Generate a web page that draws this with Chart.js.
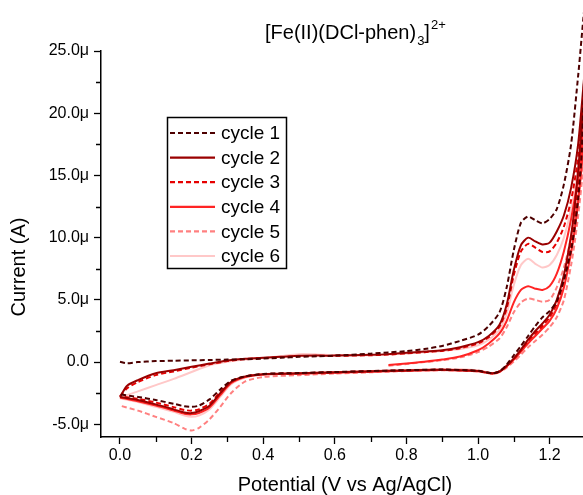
<!DOCTYPE html>
<html>
<head>
<meta charset="utf-8">
<script src="https://cdn.jsdelivr.net/npm/chart.js@4.4.0/dist/chart.umd.min.js"></script>
<style>
  html, body { margin: 0; padding: 0; background: #fff; overflow: hidden; }
  #wrap { width: 583px; height: 495px; overflow: hidden; }
</style>
</head>
<body>
<div id="wrap"><canvas id="cv" width="600" height="495"></canvas></div>
<script>
// potential grid (V vs Ag/AgCl), forward sweep and reverse sweep
const fwdPotential = [0.00, 0.02, 0.05, 0.10, 0.15, 0.20, 0.25, 0.30, 0.35, 0.40, 0.45, 0.50, 0.55, 0.60, 0.70,
                      0.75, 0.80, 0.85, 0.90, 0.95, 1.00, 1.03, 1.06, 1.08, 1.10, 1.12, 1.14, 1.16, 1.18, 1.20,
                      1.22, 1.24, 1.26, 1.28, 1.30];
const revPotential = [1.29, 1.28, 1.27, 1.26, 1.24, 1.22, 1.20, 1.18, 1.16, 1.14, 1.12, 1.10, 1.08, 1.06, 1.04,
                      1.00, 0.90, 0.80, 0.70, 0.60, 0.50, 0.40, 0.35, 0.31, 0.28, 0.25, 0.22, 0.20, 0.18, 0.15,
                      0.10, 0.05, 0.00];

// current in µA
const cycle1Fwd = [0.02, -0.10, 0.00, 0.08, 0.11, 0.14, 0.17, 0.20, 0.23, 0.28, 0.35, 0.42, 0.46, 0.52, 0.68,
                   0.78, 0.88, 1.05, 1.30, 1.70, 2.20, 2.90, 4.00, 6.00, 9.00, 11.20, 11.70, 11.40, 11.15, 11.50,
                   12.30, 14.30, 17.50, 23.10, 29.00];
const cycle2Fwd = [-2.80, -1.90, -1.45, -0.90, -0.65, -0.38, -0.12, 0.12, 0.27, 0.35, 0.42, 0.50, 0.52, 0.52, 0.58,
                   0.64, 0.75, 0.85, 0.95, 1.20, 1.60, 2.10, 3.00, 4.60, 7.40, 9.40, 10.00, 9.70, 9.45, 9.60,
                   10.50, 11.80, 14.00, 17.60, 24.00];
const cycle3Fwd = [-2.75, -2.10, -1.60, -1.05, -0.75, -0.45, -0.18, 0.08, 0.25, 0.33, 0.40, 0.48, 0.50, 0.50, 0.55,
                   0.60, 0.70, 0.80, 0.90, 1.12, 1.50, 2.00, 2.85, 4.30, 7.00, 8.90, 9.50, 9.20, 8.85, 8.90,
                   9.60, 10.90, 13.00, 16.50, 22.00];
const cycle4Fwd = [null, null, null, null, null, null, null, null, null, null, null, null, null, null, null,
                   -0.24, -0.12, 0.02, 0.20, 0.45, 0.95, 1.50, 2.30, 3.30, 4.80, 5.80, 6.10, 5.90, 5.80, 6.10,
                   7.10, 8.90, 11.50, 15.00, 20.00];
const cycle5Fwd = [null, null, null, null, null, null, null, null, null, null, null, null, null, null, null,
                   -0.30, -0.15, 0.00, 0.15, 0.38, 0.80, 1.25, 1.90, 2.80, 4.00, 4.80, 5.10, 5.00, 4.85, 5.00,
                   6.00, 7.60, 10.00, 13.30, 18.00];
const cycle6Fwd = [-2.90, -2.65, -2.35, -1.85, -1.35, -0.80, -0.25, 0.02, 0.20, 0.32, 0.48, 0.64, 0.62, 0.55, 0.55,
                   0.60, 0.70, 0.80, 0.90, 1.05, 1.35, 1.80, 2.60, 3.90, 6.20, 7.80, 8.30, 7.90, 7.60, 7.80,
                   8.60, 10.00, 12.30, 15.80, 21.00];

const cycle1Rev = [17.0, 13.2, 10.8, 9.0, 6.6, 4.9, 4.1, 3.6, 2.9, 2.1, 1.3, 0.55, -0.20, -0.75, -0.90,
                   -0.70, -0.60, -0.65, -0.72, -0.80, -0.88, -0.95, -1.15, -1.50, -2.20, -3.00, -3.50, -3.60, -3.55, -3.35,
                   -3.05, -2.80, -2.60];
const cycle2Rev = [19.0, 15.5, 12.5, 10.2, 7.0, 5.0, 3.8, 3.1, 2.5, 1.8, 1.0, 0.30, -0.30, -0.75, -0.90,
                   -0.72, -0.62, -0.67, -0.74, -0.82, -0.90, -0.97, -1.15, -1.60, -2.50, -3.50, -3.95, -4.10, -4.05, -3.80,
                   -3.40, -3.05, -2.80];
const cycle3Rev = [17.5, 14.2, 11.5, 9.5, 6.6, 4.7, 3.6, 2.9, 2.3, 1.7, 0.95, 0.25, -0.30, -0.75, -0.90,
                   -0.72, -0.62, -0.67, -0.74, -0.82, -0.90, -0.97, -1.15, -1.55, -2.40, -3.35, -3.80, -3.90, -3.85, -3.62,
                   -3.25, -2.95, -2.75];
const cycle4Rev = [16.0, 13.0, 10.6, 8.8, 6.0, 4.3, 3.3, 2.7, 2.1, 1.5, 0.85, 0.20, -0.35, -0.78, -0.92,
                   -0.74, -0.64, -0.70, -0.77, -0.85, -0.93, -1.00, -1.20, -1.70, -2.65, -3.65, -4.10, -4.20, -4.15, -3.90,
                   -3.50, -3.15, -2.85];
const cycle5Rev = [14.5, 11.8, 9.6, 7.8, 5.0, 3.6, 2.8, 2.2, 1.7, 1.2, 0.60, 0.05, -0.45, -0.80, -0.95,
                   -0.76, -0.66, -0.72, -0.82, -0.92, -1.05, -1.20, -1.55, -2.50, -3.60, -4.60, -5.30, -5.50, -5.35, -4.90,
                   -4.40, -3.90, -3.50];
const cycle6Rev = [16.8, 13.6, 11.0, 9.0, 6.2, 4.5, 3.4, 2.8, 2.2, 1.6, 0.90, 0.25, -0.32, -0.76, -0.88,
                   -0.66, -0.56, -0.64, -0.72, -0.82, -0.90, -1.00, -1.25, -1.80, -2.80, -3.80, -4.30, -4.40, -4.30, -4.00,
                   -3.60, -3.20, -2.90];

const cycleLabels = ['cycle 1', 'cycle 2', 'cycle 3', 'cycle 4', 'cycle 5', 'cycle 6'];
const xTickValues = [0, 0.2, 0.4, 0.6, 0.8, 1.0, 1.2];
const xMinorTicks = [0.1, 0.3, 0.5, 0.7, 0.9, 1.1, 1.3];
const yTickValues = [-5, 0, 5, 10, 15, 20, 25];
const yMinorTicks = [-2.5, 2.5, 7.5, 12.5, 17.5, 22.5];

const cycleColors = ['#4d0000', '#9a0000', '#e60000', '#ff2424', '#ff8080', '#ffc8c8'];
const cycleDashes = [[5, 3], [], [5, 3], [], [5, 3], []];
const FONT = "'Liberation Sans', Arial, sans-serif";

const cycleFwd = [cycle1Fwd, cycle2Fwd, cycle3Fwd, cycle4Fwd, cycle5Fwd, cycle6Fwd];
const cycleRev = [cycle1Rev, cycle2Rev, cycle3Rev, cycle4Rev, cycle5Rev, cycle6Rev];

function sweep(fwd, rev) {
    const pts = [];
    fwdPotential.forEach((v, i) => { if (fwd[i] !== null) pts.push({ x: v, y: fwd[i] }); });
    revPotential.forEach((v, i) => pts.push({ x: v, y: rev[i] }));
    return pts;
}

const overlay = {
    id: 'overlay',
    afterDraw(chart) {
        const ctx = chart.ctx;
        const xs = chart.scales.x, ys = chart.scales.y;
        ctx.save();

        // minor ticks
        ctx.strokeStyle = '#000';
        ctx.lineWidth = 1.3;
        ctx.beginPath();
        xMinorTicks.forEach(v => {
            const px = Math.round(xs.getPixelForValue(v)) + 0.5;
            ctx.moveTo(px, xs.top); ctx.lineTo(px, xs.top + 5);
        });
        yMinorTicks.forEach(v => {
            const py = Math.round(ys.getPixelForValue(v)) + 0.5;
            ctx.moveTo(ys.right, py); ctx.lineTo(ys.right - 5, py);
        });
        ctx.stroke();

        // y axis title (sits lower than the chart-area centre)
        ctx.save();
        ctx.translate(19, 267);
        ctx.rotate(-Math.PI / 2);
        ctx.font = `20px ${FONT}`;
        ctx.fillStyle = '#000';
        ctx.textAlign = 'center';
        ctx.textBaseline = 'middle';
        ctx.fillText('Current (A)', 0, 0);
        ctx.restore();

        // legend box
        ctx.lineWidth = 1.5;
        ctx.strokeStyle = '#000';
        ctx.strokeRect(167.5, 117.5, 119, 151);
        ctx.font = `19px ${FONT}`;
        ctx.textBaseline = 'middle';
        ctx.textAlign = 'left';
        ctx.fillStyle = '#000';
        cycleLabels.forEach((label, i) => {
            const y = 133 + i * 24.6;
            ctx.save();
            ctx.strokeStyle = cycleColors[i];
            ctx.lineWidth = 2.2;
            ctx.setLineDash(cycleDashes[i]);
            ctx.beginPath();
            ctx.moveTo(170, y); ctx.lineTo(215, y);
            ctx.stroke();
            ctx.restore();
            ctx.fillText(label, 221, y + 1);
        });

        // title with subscript / superscript
        ctx.textBaseline = 'alphabetic';
        let x = 265;
        const base = 39;
        ctx.font = `20px ${FONT}`;
        ctx.fillText('[Fe(II)(DCl-phen)', x, base);
        x += ctx.measureText('[Fe(II)(DCl-phen)').width;
        ctx.font = `13px ${FONT}`;
        ctx.fillText('3', x + 1, base + 6);
        x += ctx.measureText('3').width + 1;
        ctx.font = `20px ${FONT}`;
        ctx.fillText(']', x, base);
        x += ctx.measureText(']').width;
        ctx.font = `13px ${FONT}`;
        ctx.fillText('2+', x + 1, base - 10);

        ctx.restore();
    }
};

new Chart(document.getElementById('cv'), {
    type: 'scatter',
    data: {
        datasets: cycleLabels.map((label, i) => ({
            label: label,
            data: sweep(cycleFwd[i], cycleRev[i]),
            showLine: true,
            borderColor: cycleColors[i],
            backgroundColor: cycleColors[i],
            borderDash: cycleDashes[i],
            borderWidth: 2,
            pointRadius: 0,
            tension: 0.25,
            clip: false
        }))
    },
    options: {
        responsive: false,
        animation: false,
        layout: { padding: { top: 51, right: 11, left: 0, bottom: 0 } },
        plugins: { legend: { display: false }, tooltip: { enabled: false } },
        scales: {
            x: {
                type: 'linear',
                min: -0.053,
                max: 1.31,
                afterFit: s => { s.height = 58; },
                afterBuildTicks: s => { s.ticks = xTickValues.map(v => ({ value: v })); },
                grid: { drawOnChartArea: false, tickLength: 7, tickColor: '#000', tickWidth: 1.3 },
                border: { color: '#000', width: 1.5 },
                ticks: { font: { family: FONT, size: 16 }, color: '#000', padding: 2, maxRotation: 0, autoSkip: false,
                         callback: v => v.toFixed(1) },
                title: { display: true, text: 'Potential (V vs Ag/AgCl)', color: '#000',
                         font: { family: FONT, size: 20, lineHeight: 1 }, padding: { top: 0, bottom: 0 } }
            },
            y: {
                type: 'linear',
                min: -6.02,
                max: 25,
                afterFit: s => { s.width = 101; },
                afterBuildTicks: s => { s.ticks = yTickValues.map(v => ({ value: v })); },
                grid: { drawOnChartArea: false, tickLength: 7, tickColor: '#000', tickWidth: 1.3 },
                border: { color: '#000', width: 1.5 },
                ticks: { font: { family: FONT, size: 16 }, color: '#000', padding: 5, autoSkip: false,
                         callback: v => v === 0 ? '0.0' : v.toFixed(1) + 'μ' },
                title: { display: false }
            }
        }
    },
    plugins: [overlay]
});
</script>
</body>
</html>
